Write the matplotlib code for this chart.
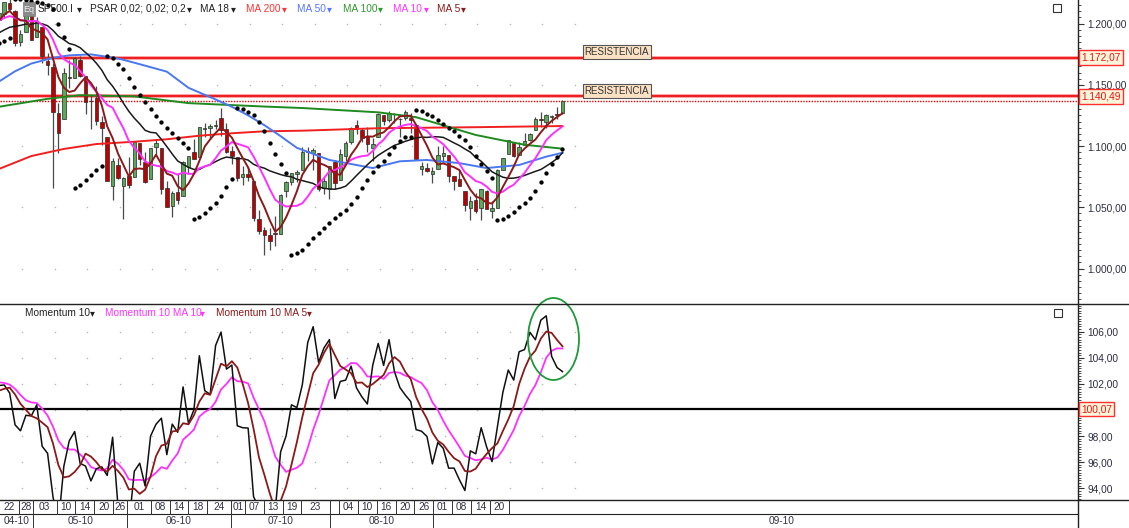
import numpy as np
import pandas as pd
import matplotlib
matplotlib.use("Agg")
import matplotlib.pyplot as plt
from matplotlib.patches import Rectangle, Ellipse
from matplotlib.lines import Line2D
from matplotlib.ticker import MultipleLocator, FixedLocator, FuncFormatter
import matplotlib.transforms as mtransforms

plt.rcParams['font.family'] = ['Liberation Sans', 'DejaVu Sans']

# ------------------------------------------------------------------ data
first_date = '2010-04-22'
holidays = ['2010-05-31', '2010-07-05', '2010-09-06']

opens = [1202.5, 1207.9, 1217.1, 1209.9, 1184.6, 1193.3, 1206.8, 1188.6, 1197.5, 1169.2,
         1164.4, 1127.0, 1122.3, 1156.4, 1155.4, 1170.0, 1157.2, 1136.5, 1138.8, 1119.6,
         1107.3, 1067.3, 1084.8, 1067.4, 1075.5, 1074.3, 1102.6, 1087.3, 1073.0, 1098.8,
         1098.4, 1065.8, 1050.8, 1062.8, 1058.8, 1082.7, 1095.0, 1091.2, 1114.0, 1115.0,
         1116.2, 1122.8, 1113.9, 1095.6, 1090.9, 1075.1, 1077.5, 1071.1, 1040.6, 1031.1,
         1027.7, 1028.1, 1028.5, 1062.9, 1070.5, 1077.2, 1080.7, 1095.6, 1094.5, 1093.9,
         1066.0, 1064.5, 1086.7, 1072.1, 1092.2, 1102.9, 1117.4, 1112.8, 1108.1, 1098.4,
         1107.5, 1125.3, 1121.1, 1125.8, 1122.1, 1122.8, 1122.9, 1116.9, 1081.5, 1082.2,
         1077.2, 1081.2, 1092.1, 1092.4, 1075.6, 1073.4, 1063.2, 1049.0, 1056.3, 1049.3,
         1062.9, 1046.9, 1049.7, 1080.7, 1093.6, 1102.6, 1092.4, 1101.2, 1104.6, 1113.4,
         1121.2, 1119.4, 1123.9, 1126.4, 1126.6]
highs = [1210.3, 1217.3, 1219.8, 1211.4, 1195.1, 1209.4, 1207.9, 1205.1, 1197.5, 1175.9,
         1167.6, 1135.1, 1163.9, 1170.5, 1172.9, 1173.6, 1157.2, 1141.9, 1148.7, 1124.3,
         1107.3, 1090.2, 1089.9, 1074.8, 1090.8, 1103.5, 1102.6, 1094.8, 1098.6, 1105.7,
         1098.4, 1071.4, 1063.2, 1077.7, 1087.9, 1092.0, 1105.9, 1115.6, 1118.7, 1118.0,
         1121.0, 1131.2, 1118.5, 1099.6, 1090.9, 1083.6, 1082.6, 1071.1, 1048.1, 1033.6,
         1032.9, 1042.5, 1060.9, 1071.3, 1078.2, 1080.8, 1099.1, 1099.1, 1098.7, 1093.9,
         1074.7, 1083.9, 1088.9, 1097.5, 1103.7, 1115.2, 1120.9, 1114.7, 1115.9, 1106.4,
         1127.3, 1125.4, 1128.8, 1126.6, 1123.1, 1129.2, 1127.2, 1116.9, 1086.7, 1086.3,
         1082.6, 1100.1, 1099.8, 1092.4, 1075.6, 1081.6, 1063.2, 1059.4, 1061.5, 1065.2,
         1064.4, 1055.1, 1081.3, 1090.1, 1105.1, 1102.6, 1103.3, 1110.3, 1110.9, 1123.9,
         1127.4, 1126.5, 1125.4, 1131.5, 1137.5]
lows = [1190.2, 1205.1, 1211.1, 1181.6, 1181.8, 1193.3, 1186.3, 1188.6, 1168.1, 1158.2,
        1065.8, 1094.2, 1122.3, 1147.7, 1155.4, 1156.1, 1126.1, 1114.0, 1117.2, 1100.7,
        1071.6, 1055.9, 1073.3, 1040.8, 1065.6, 1074.3, 1084.8, 1069.9, 1072.9, 1091.8,
        1060.5, 1049.9, 1042.2, 1052.3, 1058.8, 1077.1, 1089.0, 1091.2, 1107.1, 1105.9,
        1113.9, 1108.2, 1094.2, 1085.3, 1071.6, 1067.9, 1071.5, 1039.0, 1028.3, 1010.9,
        1015.0, 1018.4, 1028.3, 1058.2, 1068.1, 1070.4, 1080.7, 1087.7, 1080.5, 1063.3,
        1061.1, 1056.9, 1065.3, 1072.1, 1087.9, 1101.8, 1109.8, 1103.1, 1094.8, 1088.0,
        1107.5, 1116.8, 1119.5, 1118.4, 1107.0, 1120.9, 1111.0, 1088.6, 1076.7, 1079.0,
        1069.5, 1081.2, 1085.8, 1070.7, 1063.9, 1067.1, 1046.7, 1039.8, 1045.4, 1039.7,
        1048.8, 1040.9, 1049.7, 1080.4, 1093.6, 1091.2, 1092.4, 1101.2, 1103.9, 1113.4,
        1115.6, 1114.6, 1118.9, 1122.4, 1126.0]
closes = [1208.67, 1217.28, 1212.05, 1183.71, 1191.36, 1206.78, 1186.69, 1202.26, 1173.60, 1165.87,
          1128.15, 1110.88, 1159.73, 1155.79, 1171.67, 1157.44, 1135.68, 1136.94, 1120.80, 1115.05,
          1071.59, 1087.69, 1073.65, 1074.03, 1067.95, 1103.06, 1089.41, 1070.71, 1098.38, 1102.83,
          1064.88, 1050.47, 1062.00, 1055.69, 1086.84, 1091.60, 1089.63, 1115.23, 1114.61, 1116.04,
          1117.51, 1113.20, 1095.31, 1092.04, 1073.69, 1076.76, 1074.57, 1041.24, 1030.71, 1027.37,
          1022.58, 1028.06, 1060.27, 1070.25, 1077.96, 1078.75, 1095.34, 1095.17, 1096.48, 1064.88,
          1071.25, 1083.48, 1069.59, 1093.67, 1102.66, 1115.01, 1113.84, 1106.13, 1101.53, 1101.60,
          1125.86, 1120.46, 1127.24, 1125.81, 1121.64, 1127.79, 1121.06, 1089.47, 1083.61, 1079.25,
          1079.38, 1092.54, 1094.16, 1075.63, 1071.69, 1067.36, 1051.87, 1055.33, 1047.22, 1064.59,
          1048.92, 1049.33, 1080.29, 1090.10, 1104.51, 1091.84, 1098.87, 1104.18, 1109.55, 1121.90,
          1121.10, 1125.07, 1124.66, 1125.59, 1137.00]
# closes before the first visible candle (needed by the moving averages / momentum)
prior_closes = [1165.81, 1174.17, 1167.72, 1165.73, 1166.59, 1173.22, 1173.27, 1169.43,
                1178.10, 1187.44, 1189.44, 1182.45, 1186.44, 1194.37, 1196.48, 1197.30,
                1210.65, 1211.67, 1192.13, 1197.52, 1207.17, 1205.94]

# long moving averages (candle index, value)
ma50_idx = [0, 3, 6, 10, 13, 17, 22, 25, 31, 35, 40, 43, 46, 49, 52, 55, 61, 69, 74, 79, 85, 90, 96, 101, 104]
ma50_val = [1152.5, 1161.0, 1167.3, 1172.0, 1174.0, 1174.8, 1171.5, 1168.0, 1160.7, 1147.5, 1138.0,
            1132.0, 1125.0, 1117.0, 1108.0, 1098.5, 1088.6, 1082.0, 1087.5, 1088.6, 1086.0, 1082.0,
            1084.5, 1091.3, 1094.5]
ma100_idx = [0, 9, 15, 25, 35, 49, 56, 70, 77, 88, 97, 104]
ma100_val = [1132.0, 1138.5, 1141.5, 1140.5, 1135.0, 1132.2, 1131.0, 1127.5, 1123.5, 1109.0, 1101.0, 1097.8]
ma200_idx = [0, 6, 12, 18, 25, 31, 37, 43, 49, 56, 70, 89, 104]
ma200_val = [1081.2, 1091.8, 1097.6, 1101.6, 1103.5, 1105.5, 1108.4, 1110.4, 1112.0, 1112.5, 1114.5,
             1115.4, 1116.3]

psar_start = dict(up=True, sar=1184.0, ep=1213.9, af=0.06)

resistances = [1172.07, 1140.49]
momentum_level = 100.07
price_ticks = [1000, 1050, 1100, 1150, 1200]
momentum_ticks = [94, 96, 98, 100, 102, 104, 106]

day_label_dates = ['2010-04-22', '2010-04-28', '2010-05-03', '2010-05-10', '2010-05-14', '2010-05-20',
                   '2010-05-26', '2010-06-01', '2010-06-08', '2010-06-14', '2010-06-18', '2010-06-24',
                   '2010-07-01', '2010-07-07', '2010-07-13', '2010-07-19', '2010-07-23', '2010-08-02',
                   '2010-08-04', '2010-08-10', '2010-08-16', '2010-08-20', '2010-08-26', '2010-09-01',
                   '2010-09-08', '2010-09-14', '2010-09-20', '2010-09-24']
day_label_text = ['22', '28', '03', '10', '14', '20', '26', '01', '08', '14', '18', '24', '01', '07',
                  '13', '19', '23', '', '04', '10', '16', '20', '26', '01', '08', '14', '20', '']
month_start_dates = ['2010-04-22', '2010-05-03', '2010-06-01', '2010-07-01', '2010-08-02', '2010-09-01']
month_label_text = ['04-10', '05-10', '06-10', '07-10', '08-10', '09-10']

# ------------------------------------------------------------------ indicators
n = len(closes)
idx = np.arange(n)
allc = pd.Series(prior_closes + closes)
npre = len(prior_closes)
ma5 = allc.rolling(5).mean().values[npre:]
ma10 = allc.rolling(10).mean().values[npre:]
ma18 = allc.rolling(18).mean().values[npre:]
mom_all = allc / allc.shift(10) * 100.0
mom = mom_all.values[npre:]
mom_ma10 = mom_all.rolling(10).mean().values[npre:]
mom_ma5 = mom_all.rolling(5).mean().values[npre:]


def parabolic_sar(h, l, up, sar, ep, af, step=0.02, amax=0.2):
    out = []
    for i in range(len(h)):
        if i > 0:
            sar = sar + af * (ep - sar)
            if up:
                sar = min(sar, l[i - 1], l[max(i - 2, 0)])
                if l[i] < sar:
                    up, sar, ep, af = False, ep, l[i], step
                elif h[i] > ep:
                    ep, af = h[i], min(af + step, amax)
            else:
                sar = max(sar, h[i - 1], h[max(i - 2, 0)])
                if h[i] > sar:
                    up, sar, ep, af = True, ep, h[i], step
                elif l[i] < ep:
                    ep, af = l[i], min(af + step, amax)
        out.append(sar)
    return np.array(out)


psar = parabolic_sar(highs, lows, **psar_start)

# ------------------------------------------------------------------ layout
W, H = 1129, 528
fig = plt.figure(figsize=(W / 100, H / 100), dpi=100)
fig.patch.set_facecolor('white')


def fx(x):
    return x / W


def fy(y):
    return 1 - y / H


X0, DX = -1.2, 5.42          # pixel centre of first candle, candle spacing
PLOT_R = 1078                # right edge of plotting area (px)
SEP1, SEP2 = 304, 500        # panel separators (px)
LBL_SCALE = 4.71             # px per trading day used by the date strip

xlim = ((0 - X0) / DX, (PLOT_R - X0) / DX)

ax1 = fig.add_axes([0, fy(SEP1), fx(PLOT_R), SEP1 / H])
ax2 = fig.add_axes([0, fy(SEP2), fx(PLOT_R), (SEP2 - SEP1) / H])
ax3 = fig.add_axes([0, 0, 1, (H - SEP2) / H])

# price scale: 1200 at y=23.5 px, 1.225 px per point
ax1.set_ylim(1200 - (SEP1 - 23.5) / 1.225, 1200 + 23.5 / 1.225)
# momentum scale: 106 at y=331.7 px, 13.05 px per unit
ax2.set_ylim(106 - (SEP2 - 331.7) / 13.05, 106 + (331.7 - SEP1) / 13.05)
for ax in (ax1, ax2):
    ax.set_xlim(*xlim)
    ax.set_facecolor('white')
    for s in ('top', 'left', 'bottom'):
        ax.spines[s].set_visible(False)
    ax.spines['right'].set_color('#222222')
    ax.spines['right'].set_linewidth(1.0)
    ax.xaxis.set_visible(False)
    ax.yaxis.tick_right()
    ax.tick_params(axis='y', which='major', direction='out', length=4, width=0.8,
                   color='#333333', labelsize=7.3, labelcolor='#2e2e40', pad=3)
    ax.tick_params(axis='y', which='minor', direction='out', length=2, width=0.6, color='#333333')


def eu(v):
    s = f"{v:,.2f}"
    return s.replace(',', 'X').replace('.', ',').replace('X', '.')


ax1.yaxis.set_major_locator(FixedLocator(price_ticks))
ax1.yaxis.set_minor_locator(MultipleLocator(5))
ax1.yaxis.set_major_formatter(FuncFormatter(lambda v, p: eu(v)))
ax2.yaxis.set_major_locator(FixedLocator(momentum_ticks))
ax2.yaxis.set_minor_locator(MultipleLocator(0.2))
# the 100 label sits under the 100,07 marker box
ax2.yaxis.set_major_formatter(FuncFormatter(lambda v, p: '' if abs(v - momentum_level) < 0.5 else eu(v)))

# grid dots
gx = np.arange(4.28, 107, 6.0)
for ax, gy in ((ax1, price_ticks), (ax2, momentum_ticks)):
    GX, GY = np.meshgrid(gx, gy)
    ax.scatter(GX.ravel(), GY.ravel(), s=1.2, color='#b8b8b8', zorder=0, linewidths=0)

# ------------------------------------------------------------------ price panel
o = np.array(opens); c = np.array(closes); h = np.array(highs); l = np.array(lows)
up = c >= o
ax1.vlines(idx, l, h, color='#4a4a4a', lw=0.9, zorder=2)
body_lo = np.minimum(o, c)
body_h = np.maximum(np.abs(c - o), 0.6)
ax1.bar(idx, body_h, bottom=body_lo, width=0.64,
        color=np.where(up, '#5aa85a', '#c00000'), edgecolor='#2a2a2a', linewidth=0.5, zorder=3)

ax1.plot(ma200_idx, ma200_val, color='#f02020', lw=1.4, zorder=4)
ax1.plot(ma100_idx, ma100_val, color='#1f8a1f', lw=1.4, zorder=4)
ax1.plot(ma50_idx, ma50_val, color='#4a78f0', lw=1.4, zorder=4)
ax1.plot(idx, ma18, color='#1a1a1a', lw=1.1, zorder=5)
ax1.plot(idx, ma10, color='#ff30ff', lw=1.4, zorder=5)
ax1.plot(idx, ma5, color='#8b1a1a', lw=1.4, zorder=6)
ax1.plot(idx, psar, linestyle='none', marker='o', ms=2.1, color='black', zorder=6)

for lev in resistances:
    ax1.axhline(lev, color='#ff9090', lw=2.6, zorder=1)
    ax1.axhline(lev, color='#e80000', lw=1.1, zorder=1)
ax1.axhline(closes[-1], color='#e80000', lw=1.0, ls=(0, (1, 1)), zorder=1)

RES_X = (583 - X0) / DX
for lev in resistances:
    ax1.annotate('RESISTENCIA', xy=(RES_X, lev), xytext=(1.5, 5.5), textcoords='offset pixels',
                 ha='left', va='center', fontsize=7, color='#333333', zorder=8,
                 bbox=dict(boxstyle='square,pad=0.18', fc='#fbe1c4', ec='#555555', lw=0.8))

tr1 = mtransforms.blended_transform_factory(ax1.transAxes, ax1.transData)
for lev in resistances:
    ax1.text(1.0 + 3 / PLOT_R, lev, eu(lev), transform=tr1, ha='left', va='center',
             fontsize=7.3, color='#ee1111', clip_on=False, zorder=9,
             bbox=dict(boxstyle='square,pad=0.22', fc='#fff6dc', ec='#ff3030', lw=1.0))

# ------------------------------------------------------------------ momentum panel
ax2.axhline(momentum_level, color='black', lw=1.6, zorder=1)
ax2.plot(idx, mom, color='#111111', lw=1.1, zorder=4)
ax2.plot(idx, mom_ma10, color='#ff30ff', lw=1.3, zorder=3)
ax2.plot(idx, mom_ma5, color='#8b1a1a', lw=1.3, zorder=5)
tr2 = mtransforms.blended_transform_factory(ax2.transAxes, ax2.transData)
ax2.text(1.0 + 3 / PLOT_R, momentum_level, eu(momentum_level), transform=tr2, ha='left', va='center',
         fontsize=7.3, color='#ee1111', clip_on=False, zorder=9,
         bbox=dict(boxstyle='square,pad=0.22', fc='#fff6dc', ec='#ff3030', lw=1.0))

ell = Ellipse(((553.5 - X0) / DX, 105.44), 51 / DX, 82 / 13.05, fill=False,
              edgecolor='#1e9a3a', lw=1.3, clip_on=False, zorder=10)
ax2.add_patch(ell)

# ------------------------------------------------------------------ legends
def legend_row(items, y):
    for text, x, col, ax_ in items:
        fig.text(fx(x), fy(y), text, color=col, fontsize=7.3, ha='left', va='center')
        fig.text(fx(ax_), fy(y + 0.5), '▾', color=col, fontsize=7, ha='center', va='center',
                 family='DejaVu Sans')


legend_row([('SP500.I', 38, '#222222', 79),
            ('PSAR 0,02; 0,02; 0,2', 90, '#222222', 189),
            ('MA 18', 200, '#222222', 233),
            ('MA 200', 246, '#ff3333', 284),
            ('MA 50', 297, '#5577ff', 329),
            ('MA 100', 343, '#2f9a2f', 380),
            ('MA 10', 393, '#ff33ff', 426),
            ('MA 5', 437, '#8b1c1c', 463)], 8.5)
legend_row([('Momentum 10', 25, '#222222', 92),
            ('Momentum 10 MA 10', 105, '#ff33ff', 202),
            ('Momentum 10 MA 5', 216, '#8b1c1c', 309)], 313)

# "Eq" icon
fig.patches.append(Rectangle((fx(23), fy(16)), 12 / W, 14 / H, transform=fig.transFigure,
                             fc='#8a8a8a', ec='#777777', lw=0.5, zorder=10))
fig.text(fx(29), fy(9), 'Eq', color='#eeeeee', fontsize=6.5, ha='center', va='center', zorder=11)
# window icons
for (xx, yy) in [(1053, 4), (1054, 309)]:
    fig.patches.append(Rectangle((fx(xx), fy(yy + 8)), 8 / W, 8 / H, transform=fig.transFigure,
                                 fill=False, ec='#333333', lw=0.8, zorder=10))

# separators
fig.add_artist(Line2D([0, 1], [fy(SEP1), fy(SEP1)], color='#222222', lw=1.0, transform=fig.transFigure))

# ------------------------------------------------------------------ date strip
ax3.set_xlim(0, W)
ax3.set_ylim(0, H - SEP2)
ax3.axis('off')
RH = H - SEP2
ax3.plot([0, W], [RH, RH], color='#222222', lw=1.0, clip_on=False)
ax3.plot([0, PLOT_R], [14, 14], color='#222222', lw=0.8)
ax3.plot([PLOT_R, PLOT_R], [0, RH], color='#222222', lw=1.0)

day_pos = np.array([np.busday_count(first_date, d, holidays=holidays) for d in day_label_dates]) * LBL_SCALE
for i, (p, t) in enumerate(zip(day_pos, day_label_text)):
    if p > 0:
        ax3.plot([p, p], [14, RH], color='#333333', lw=0.7)
    if t and i + 1 < len(day_pos):
        ax3.text((p + day_pos[i + 1]) / 2, 21.5, t, ha='center', va='center', fontsize=7.3, color='#333344')

mon_pos = np.array([np.busday_count(first_date, d, holidays=holidays) for d in month_start_dates]) * LBL_SCALE
mon_edges = list(mon_pos) + [W]
for i, t in enumerate(month_label_text):
    p = mon_edges[i]
    if p > 0:
        ax3.plot([p, p], [0, 14], color='#333333', lw=0.7)
    ax3.text((p + mon_edges[i + 1]) / 2, 7, t, ha='center', va='center', fontsize=7.3, color='#333344')

fig.savefig('out.png', dpi=100, facecolor='white')
